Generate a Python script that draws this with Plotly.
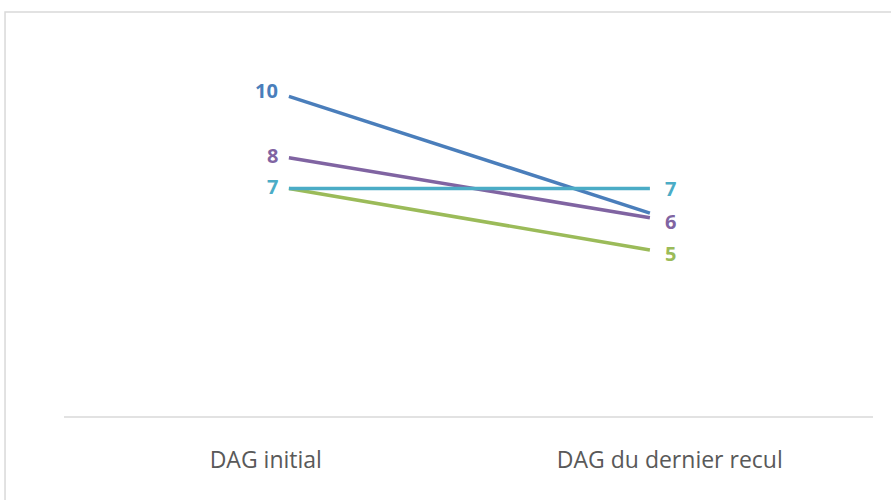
import plotly.graph_objects as go

# Données
categories = ["DAG initial", "DAG du dernier recul"]
series_names = ["Série 1", "Série 2", "Série 3", "Série 4"]
start_values = [10, 8, 7, 7]
end_values = [6.2, 6.05, 5, 7]
colors = ["#4a7ebb", "#8064a2", "#9bbb59", "#4bacc6"]
# étiquettes visibles (gauche, droite) - certaines sont masquées par superposition
show_labels = [(True, False), (True, True), (False, True), (True, True)]

LABEL_FONT = "Open Sans, sans-serif"

fig = go.Figure()

for name, v0, v1, col in zip(series_names, start_values, end_values, colors):
    fig.add_trace(go.Scatter(
        x=[0, 1], y=[v0, v1], mode="lines", name=name,
        line=dict(color=col, width=3.5), showlegend=False,
        hoverinfo="skip"
    ))

for v0, v1, col, (sl, sr) in zip(start_values, end_values, colors, show_labels):
    if sl:
        fig.add_annotation(x=0, y=v0, text=f"<b>{round(v0)}</b>", showarrow=False,
                           xanchor="right", xshift=-9, yshift=6 if v0 == 10 else 2,
                           font=dict(color=col, size=20, family=LABEL_FONT))
    if sr:
        fig.add_annotation(x=1, y=v1, text=f"<b>{round(v1)}</b>", showarrow=False,
                           xanchor="left", xshift=13, yshift=-4 if v1 < 7 else 0,
                           font=dict(color=col, size=20, family=LABEL_FONT))

# cadre gris
fig.add_shape(type="rect", xref="paper", yref="paper",
              x0=-0.0729, x1=1.2, y0=-0.4, y1=1.0465,
              line=dict(color="#d9d9d9", width=1.5), fillcolor="rgba(0,0,0,0)")

fig.update_layout(
    width=891, height=500,
    margin=dict(l=64, r=18, t=30, b=83),
    plot_bgcolor="white", paper_bgcolor="white",
    font=dict(family=LABEL_FONT, color="#595959"),
)
fig.update_xaxes(
    range=[-0.623, 1.618], tickvals=[-0.064, 1.055], ticktext=categories,
    showgrid=False, zeroline=False, showline=False,
    ticks="", tickfont=dict(size=23, color="#595959", family=LABEL_FONT),
    ticklabelstandoff=27,
)
fig.update_yaxes(range=[-0.44, 12.16], visible=False)
# ligne d'axe horizontale
fig.add_shape(type="line", xref="paper", yref="paper", x0=0, x1=1, y0=0, y1=0,
              line=dict(color="#d9d9d9", width=1.5))

fig.write_html("out.html", config={"displayModeBar": False},
               post_script="document.body.style.margin='0';")
